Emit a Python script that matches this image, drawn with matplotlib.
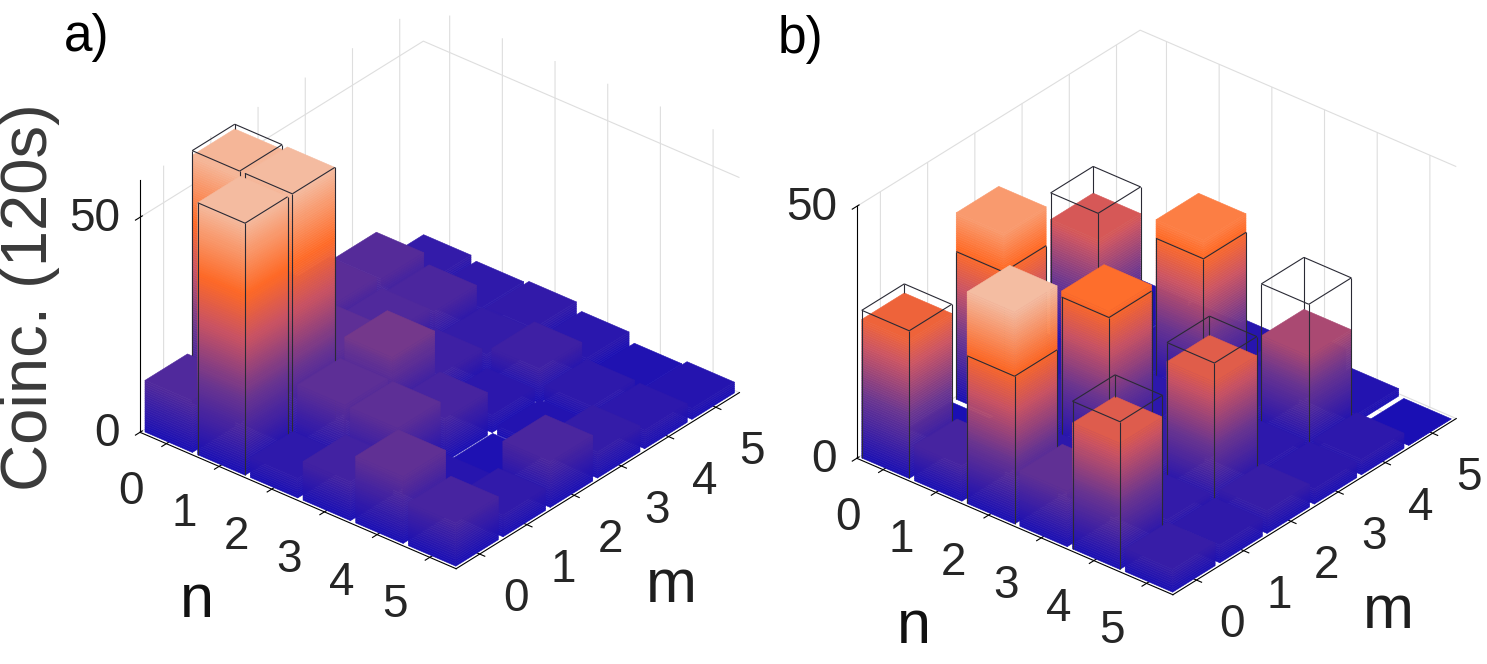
"""
Photon-number coincidence histograms (n, m) drawn as 3D bars with a
height gradient, plus the ideal distribution as wire boxes.
"""

import numpy as np
import matplotlib
matplotlib.use("Agg")
import matplotlib.pyplot as plt
from matplotlib.colors import LinearSegmentedColormap, Normalize
from mpl_toolkits.mplot3d import proj3d
from mpl_toolkits.mplot3d.art3d import Poly3DCollection, Line3DCollection

plt.rcParams['font.family'] = ['Liberation Sans', 'DejaVu Sans']
plt.rcParams['grid.color'] = '#dedede'
plt.rcParams['grid.linewidth'] = 0.8

n_vals = np.arange(6)
m_vals = np.arange(6)
z_ticks = [0, 50]

# measured coincidences in 120 s, rows = n, columns = m
counts_a = np.array([
    [12.0, 57.5, 18.0, 14.0, 13.0, 5.6],
    [58.6, 58.6, 15.0, 12.0, 10.7, 4.7],
    [4.5, 14.7, 19.0, 8.0, 6.0, 5.3],
    [9.0, 14.6, 10.0, 4.0, 8.0, 3.6],
    [15.5, 3.0, 1.0, 2.0, 4.5, 1.5],
    [10.0, 5.0, 10.6, 6.0, 4.3, 2.5],
])
theory_a = np.zeros((6, 6))
theory_a[0, 1] = theory_a[1, 0] = theory_a[1, 1] = 58.6

counts_b = np.array([
    [27.5, 0.0, 37.0, 2.0, 24.0, 1.0],
    [7.0, 3.0, 4.0, 3.0, 2.0, 1.0],
    [42.0, 3.0, 30.5, 3.0, 33.0, 2.0],
    [11.0, 4.0, 5.0, 3.0, 4.0, 5.0],
    [25.0, 4.0, 25.5, 3.0, 19.0, 1.5],
    [4.5, 3.5, 4.5, 3.0, 3.0, 0.0],
])
theory_b = np.zeros((6, 6))
theory_b[0::2, 0::2] = 29.3

cmap = LinearSegmentedColormap.from_list("coinc", [
    (0.0, "#1a0fb4"), (0.25, "#6a3590"), (0.45, "#cc5462"), (0.6, "#ff6a26"),
    (0.85, "#f4bfa5"), (1.0, "#f8dccf")])

half = 0.45
BOX_PX = 252.0     # screen height of the z box
TICK_FS = 33
LABEL_FS = 44


def draw_panel(ax, counts, theory, zmax, cmax):
    norm = Normalize(0, cmax)
    dz = zmax / 110
    order = 0
    # back to front so that nearer bars paint over farther ones
    for i in n_vals:
        for j in m_vals[::-1]:
            h = counts[i, j]
            x0, x1 = i - half, i + half
            y0, y1 = j - half, j + half
            k = max(1, int(np.ceil(h / dz)))
            levels = np.linspace(0, h, k + 1)
            polys, cols = [], []
            for za, zb in zip(levels[:-1], levels[1:]):
                c = cmap(norm(0.5 * (za + zb)))
                polys.append([(x1, y0, za), (x1, y1, za), (x1, y1, zb), (x1, y0, zb)])
                polys.append([(x0, y0, za), (x1, y0, za), (x1, y0, zb), (x0, y0, zb)])
                cols += [c, c]
            polys.append([(x0, y0, h), (x1, y0, h), (x1, y1, h), (x0, y1, h)])
            cols.append(cmap(norm(h)))
            pc = Poly3DCollection(polys, facecolors=cols, edgecolors=cols, linewidths=0.4)
            pc.set_zorder(order)
            ax.add_collection3d(pc)

            t = theory[i, j]
            if t > 0:
                segs = [[(xa, ya, 0), (xa, ya, t)] for xa, ya in [(x0, y0), (x1, y0), (x1, y1)]]
                segs.append([(x0, y0, t), (x1, y0, t)])
                segs.append([(x1, y0, t), (x1, y1, t)])
                if t > h:
                    segs.append([(x1, y1, t), (x0, y1, t)])
                    segs.append([(x0, y1, t), (x0, y0, t)])
                    segs.append([(x0, y1, h), (x0, y1, t)])
                lc = Line3DCollection(segs, colors='#2a2a35', linewidths=0.8)
                lc.set_zorder(order + 0.5)
                ax.add_collection3d(lc)
            order += 1

    ax.set_xlim(-0.5, 5.5, view_margin=0)
    ax.set_ylim(-0.5, 5.5, view_margin=0)
    ax.set_zlim(0, zmax, view_margin=0)
    ax.set_box_aspect((411.6, 442.8, 294.7))
    ax.view_init(elev=31.2, azim=-50.2)
    ax.set_proj_type('ortho')
    ax.set_xticks(n_vals)
    ax.set_yticks(m_vals)
    ax.set_zticks(z_ticks)
    ax.set_xticklabels([])
    ax.set_yticklabels([])
    ax.set_zticklabels([])
    for axis in (ax.xaxis, ax.yaxis, ax.zaxis):
        axis.set_pane_color((1, 1, 1, 1))
        axis.line.set_color('black')
        axis.line.set_linewidth(0.8)
    ax.tick_params(colors='black')


def label_specs(zmax):
    """Anchor points (data coords) of tick and axis labels."""
    ppu = BOX_PX / zmax
    tick_kw = dict(fontsize=TICK_FS, color='#262626', ha='center', va='center')
    specs = []
    for n in n_vals:
        specs.append(((n, -1.24, -26.3 / ppu), str(n), tick_kw))
    for m in m_vals:
        specs.append(((6.18, m, -29.6 / ppu), str(m), tick_kw))
    for z in z_ticks:
        specs.append(((-0.7, -0.7, z), str(z),
                      dict(fontsize=TICK_FS, color='#262626', ha='right', va='center')))
    specs.append(((1.24, -1.24, -108.3 / ppu), 'n',
                  dict(fontsize=LABEL_FS, color='#111111', ha='center', va='center')))
    specs.append(((6.18, 3.3, -114.1 / ppu), 'm',
                  dict(fontsize=LABEL_FS, color='#1e1e1e', ha='center', va='center')))
    return specs


def to_px(ax, x, y, z):
    xs, ys, _ = proj3d.proj_transform(x, y, z, ax.get_proj())
    return np.array(ax.transData.transform((xs, ys)))


def add_labels(ax, specs):
    fig = ax.figure
    W, H = fig.bbox.width, fig.bbox.height
    for (x, y, z), s, kw in specs:
        px, py = to_px(ax, x, y, z)
        fig.text(px / W, py / H, s, **kw)


def put_zaxis_left(ax):
    # pick the vertical edge that sits on the left corner of the floor
    fig = ax.figure
    best, best_d = 'default', None
    for pos in ('lower', 'upper'):
        ax.zaxis.set_ticks_position(pos)
        fig.canvas.draw()
        xd, yd = ax.zaxis.line.get_data()
        lx = ax.transData.transform((xd[0], yd[0]))[0]
        d = abs(lx - to_px(ax, -0.5, -0.5, 0)[0])
        if best_d is None or d < best_d:
            best, best_d = pos, d
    ax.zaxis.set_ticks_position(best)


def place(ax, target_left, edge_len):
    fig = ax.figure
    W, H = fig.bbox.width, fig.bbox.height
    for _ in range(3):
        fig.canvas.draw()
        p0 = to_px(ax, -0.5, -0.5, 0)
        p1 = to_px(ax, 5.5, -0.5, 0)
        s = edge_len / np.hypot(*(p1 - p0))
        bb = ax.get_position(original=True)
        c = np.array([(bb.x0 + bb.width / 2) * W, (bb.y0 + bb.height / 2) * H])
        w, h = bb.width * W * s, bb.height * H * s
        new_p0 = c + s * (p0 - c)
        c = c + (np.array(target_left) - new_p0)
        ax.set_position([(c[0] - w / 2) / W, (c[1] - h / 2) / H, w / W, h / H])


fig = plt.figure(figsize=(14.87, 6.64), dpi=100, facecolor='white')
ax_a = fig.add_axes([0.05, 0.1, 0.4, 0.8], projection='3d', computed_zorder=False)
ax_b = fig.add_axes([0.53, 0.1, 0.4, 0.8], projection='3d', computed_zorder=False)

draw_panel(ax_a, counts_a, theory_a, zmax=58.6, cmax=70)
draw_panel(ax_b, counts_b, theory_b, zmax=50, cmax=50)

edge = np.hypot(316.2, 136.2)
place(ax_a, (140, 664 - 432.3), edge)
place(ax_b, (856.8, 664 - 458.3), edge)
put_zaxis_left(ax_a)
put_zaxis_left(ax_b)
fig.canvas.draw()
add_labels(ax_a, label_specs(58.6))
add_labels(ax_b, label_specs(50))

fig.text(30 / 1487, 1 - 297 / 664, 'Coinc. (120s)', rotation=90, fontsize=47,
         color='#3a3a3a', ha='center', va='center')
fig.text(87 / 1487, 1 - 38 / 664, 'a)', fontsize=37, color='black', ha='center', va='center')
fig.text(800 / 1487, 1 - 40 / 664, 'b)', fontsize=37, color='black', ha='center', va='center')

fig.savefig('out.png', dpi=100, facecolor='white')
